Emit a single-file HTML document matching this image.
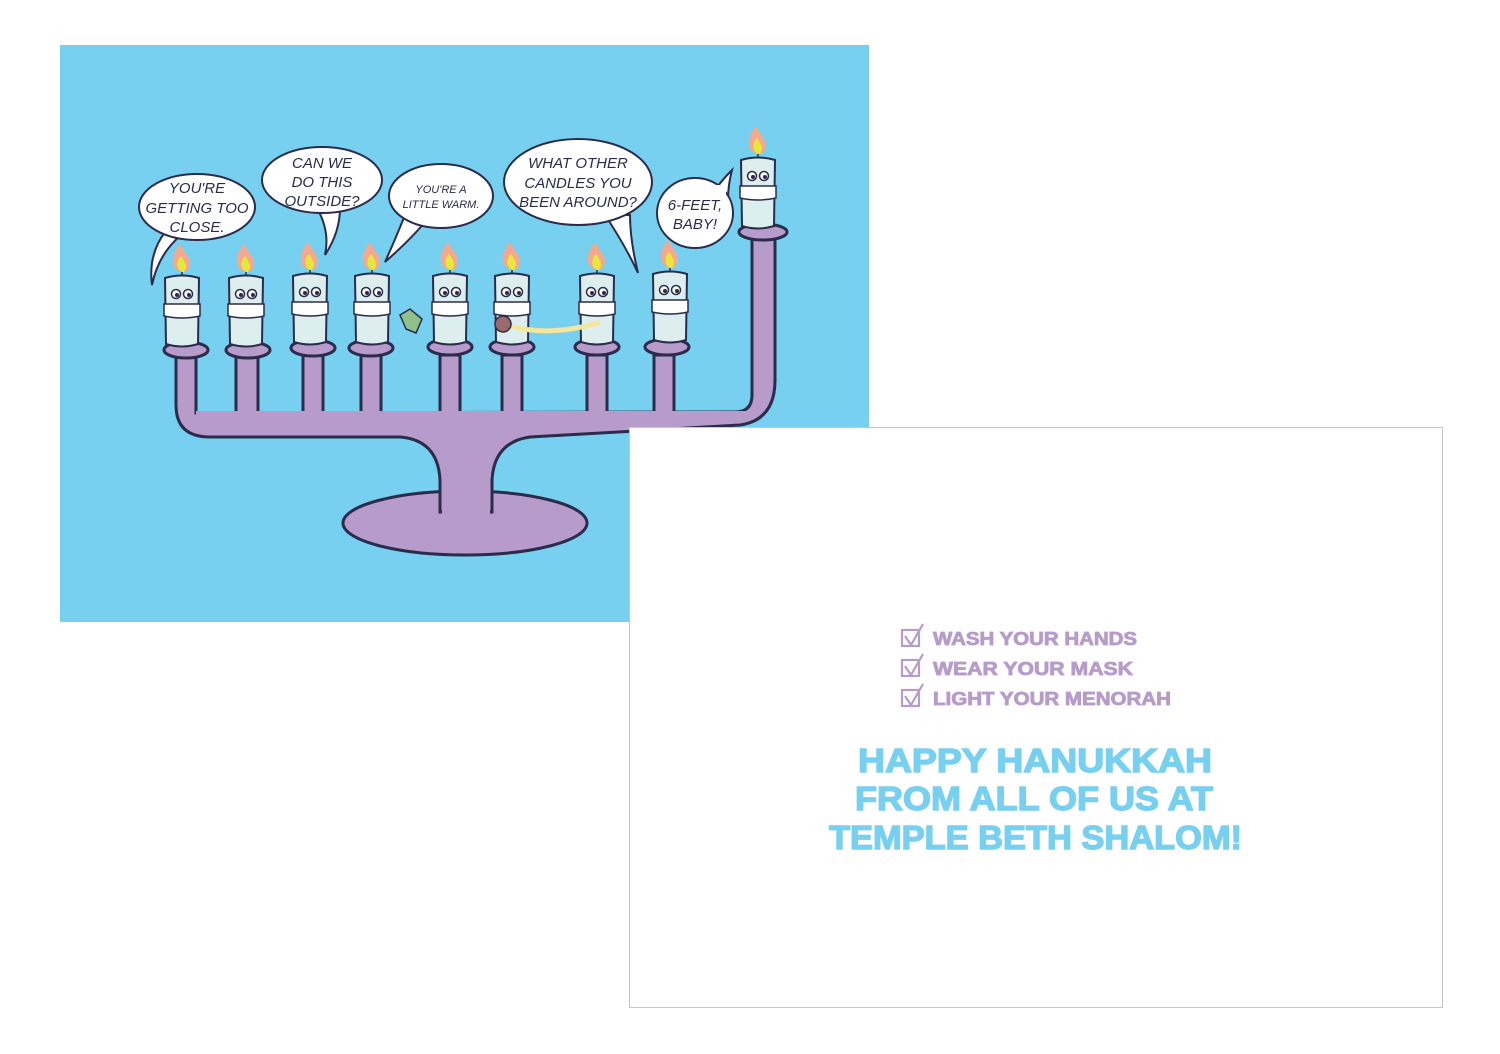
<!DOCTYPE html>
<html><head><meta charset="utf-8"><style>
html,body{margin:0;padding:0;background:#fff;width:1500px;height:1054px;overflow:hidden}
svg{display:block}
.b{font-family:"Liberation Sans",sans-serif;font-style:italic;font-size:15px;fill:#2b2b4b;text-anchor:middle}
.p{font-family:"Liberation Sans",sans-serif;font-weight:bold;font-size:18px;fill:#b79bcb;stroke:#b79bcb;stroke-width:0.8}
.h{font-family:"Liberation Sans",sans-serif;font-weight:bold;font-size:33px;fill:#78d0f0;stroke:#78d0f0;stroke-width:1.4}
</style></head><body>
<svg width="1500" height="1054" viewBox="0 0 1500 1054">
<defs>
<g id="cand">
<path d="M-17,-68 Q0,-73 17,-68 L16,-2 Q0,3 -16,-2 Z" fill="#ddeeee" stroke="#2b2b4b" stroke-width="2"/>
<path d="M-18,-42 L18,-42 L18,-30 Q0,-26 -18,-30 Z" fill="#fff" stroke="#2b2b4b" stroke-width="1.5"/>
<circle cx="-6" cy="-52" r="4.5" fill="#fff" stroke="#2b2b4b" stroke-width="1.5"/>
<circle cx="6" cy="-52" r="4.5" fill="#fff" stroke="#2b2b4b" stroke-width="1.5"/>
<circle cx="-5" cy="-51" r="2" fill="#2b2b4b"/><circle cx="7" cy="-51" r="2" fill="#2b2b4b"/>
<line x1="0" y1="-70" x2="0" y2="-76" stroke="#2b2b4b" stroke-width="1.5"/>
<path d="M0,-74 C-14,-78 -10,-92 -2,-102 C2,-92 14,-86 4,-74 Z" fill="#f4a98e"/>
<path d="M0,-74 C-7,-78 -5,-86 -1,-90 C3,-84 6,-80 2,-74 Z" fill="#e8e83a"/>
</g>
</defs>
<rect x="60" y="45" width="809" height="577" fill="#78d0f0"/>
<g fill="#b79bcb" stroke="#2b2b4b" stroke-width="3">
<ellipse cx="465" cy="523" rx="122" ry="32"/>
<path d="M176,355 L176,405 Q176,437 210,437 L400,437 Q438,440 440,480 L440,512 L492,512 L492,480 Q494,442 530,437 L740,425 Q775,420 775,380 L775,235 L752,235 L752,395 Q752,412 735,412 L196,413 L196,355 Z"/>
<path d="M236,355 L236,413 L258,413 L258,355 Z M303,355 L303,413 L323,413 L323,355 Z M361,355 L361,413 L381,413 L381,355 Z M440,355 L440,413 L460,413 L460,355 Z M502,355 L502,413 L522,413 L522,355 Z M587,355 L587,413 L607,413 L607,355 Z M654,355 L654,413 L674,413 L674,355 Z"/>
</g>
<rect x="196" y="411" width="556" height="4" fill="#b79bcb"/>
<rect x="442" y="495" width="48" height="22" fill="#b79bcb"/>
<g fill="#b79bcb" stroke="#2b2b4b" stroke-width="3">
<ellipse cx="186" cy="350" rx="22" ry="8"/><ellipse cx="248" cy="350" rx="22" ry="8"/>
<ellipse cx="313" cy="348" rx="22" ry="8"/><ellipse cx="371" cy="348" rx="22" ry="8"/>
<ellipse cx="450" cy="347" rx="22" ry="8"/><ellipse cx="512" cy="347" rx="22" ry="8"/>
<ellipse cx="597" cy="347" rx="22" ry="8"/><ellipse cx="667" cy="347" rx="22" ry="8"/>
<ellipse cx="763" cy="232" rx="24" ry="8"/>
</g>
<use href="#cand" x="182" y="346"/><use href="#cand" x="246" y="346"/>
<use href="#cand" x="310" y="344"/><use href="#cand" x="372" y="344"/>
<use href="#cand" x="450" y="344"/><use href="#cand" x="512" y="344"/>
<use href="#cand" x="597" y="344"/><use href="#cand" x="670" y="342"/>
<use href="#cand" x="758" y="228"/>
<path d="M505,325 Q550,338 600,322" fill="none" stroke="#f3e7a0" stroke-width="5"/>
<circle cx="503" cy="324" r="8" fill="#9b6a6a" stroke="#2b2b4b" stroke-width="1.5"/>
<path d="M400,315 l10,-6 l12,10 l-6,14 l-10,-4 z" fill="#8fc08a" stroke="#2b2b4b" stroke-width="1.5"/>
<g fill="#fff" stroke="#2b2b4b" stroke-width="2">
<path d="M165,232 Q148,255 152,285 Q158,255 180,236 Z"/>
<ellipse cx="197" cy="207" rx="58" ry="33"/>
<path d="M318,210 Q330,232 325,255 Q340,232 340,208 Z"/>
<ellipse cx="322" cy="180" rx="60" ry="33"/>
<path d="M405,215 Q395,240 385,262 Q410,240 425,222 Z"/>
<ellipse cx="441" cy="196" rx="52" ry="32"/>
<path d="M605,215 Q625,245 638,273 Q630,240 630,215 Z"/>
<ellipse cx="578" cy="182" rx="74" ry="43"/>
<path d="M715,190 Q722,180 732,170 Q728,185 728,200 Z"/>
<ellipse cx="695" cy="213" rx="38" ry="35"/>
</g>
<rect x="710" y="185" width="16" height="16" fill="#fff"/>
<text class="b"><tspan x="197" y="193">YOU'RE</tspan><tspan x="197" y="213">GETTING TOO</tspan><tspan x="197" y="232">CLOSE.</tspan></text>
<text class="b"><tspan x="322" y="168">CAN WE</tspan><tspan x="322" y="187">DO THIS</tspan><tspan x="322" y="206">OUTSIDE?</tspan></text>
<text class="b" style="font-size:11px"><tspan x="441" y="193">YOU'RE A</tspan><tspan x="441" y="208">LITTLE WARM.</tspan></text>
<text class="b"><tspan x="578" y="168">WHAT OTHER</tspan><tspan x="578" y="188">CANDLES YOU</tspan><tspan x="578" y="207">BEEN AROUND?</tspan></text>
<text class="b"><tspan x="695" y="210">6-FEET,</tspan><tspan x="695" y="229">BABY!</tspan></text>
<rect x="629.5" y="427.5" width="813" height="580" fill="#fff" stroke="#c8c8c8" stroke-width="1"/>
<g fill="none" stroke="#b79bcb" stroke-width="2.2">
<rect x="902" y="630" width="17" height="16"/><path d="M905,636 L911,645 L923,624"/>
<rect x="902" y="660" width="17" height="16"/><path d="M905,666 L911,675 L923,654"/>
<rect x="902" y="690" width="17" height="16"/><path d="M905,696 L911,705 L923,684"/>
</g>
<text class="p" x="933" y="645" textLength="204" lengthAdjust="spacingAndGlyphs">WASH YOUR HANDS</text>
<text class="p" x="933" y="675" textLength="200" lengthAdjust="spacingAndGlyphs">WEAR YOUR MASK</text>
<text class="p" x="933" y="705" textLength="238" lengthAdjust="spacingAndGlyphs">LIGHT YOUR MENORAH</text>
<text class="h" x="858" y="772" textLength="354" lengthAdjust="spacingAndGlyphs">HAPPY HANUKKAH</text>
<text class="h" x="855" y="810" textLength="358" lengthAdjust="spacingAndGlyphs">FROM ALL OF US AT</text>
<text class="h" x="829" y="849" textLength="413" lengthAdjust="spacingAndGlyphs">TEMPLE BETH SHALOM!</text>
</svg>
</body></html>
